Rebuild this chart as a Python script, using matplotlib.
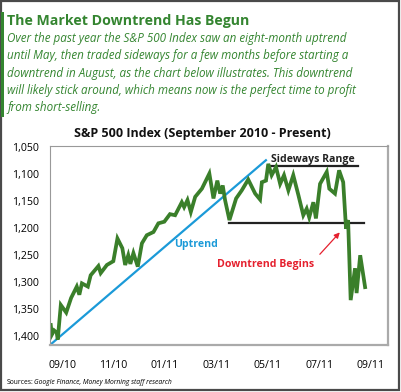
import matplotlib
matplotlib.use("Agg")
import matplotlib.pyplot as plt
from matplotlib.patches import Rectangle

plt.rcParams["font.family"] = ["Open Sans", "DejaVu Sans"]

# ---------- Data (months since Sep 2010, index level as labelled on the chart) ----------
months = [-0.44, -0.40, -0.31, -0.21, -0.17, -0.05, 0.16, 0.35, 0.57, 0.67,
          0.77, 1.00, 1.11, 1.41, 1.50, 1.74, 1.99, 2.15, 2.34, 2.45,
          2.57, 2.65, 2.77, 2.94, 3.10, 3.29, 3.55, 3.74, 3.97, 4.19,
          4.39, 4.65, 4.74, 4.87, 5.00, 5.17, 5.43, 5.72, 5.88, 6.03,
          6.14, 6.24, 6.33, 6.50, 6.76, 6.98, 7.23, 7.50, 7.69, 7.76,
          7.92, 8.01, 8.14, 8.31, 8.47, 8.62, 8.79, 8.98, 9.18, 9.37,
          9.50, 9.60, 9.76, 9.86, 10.02, 10.28, 10.38, 10.60, 10.76, 10.92,
          11.03, 11.11, 11.21, 11.38, 11.44, 11.58, 11.77]
index_level = [1380, 1398, 1390, 1394, 1407, 1343, 1357, 1330, 1309, 1324,
               1303, 1309, 1288, 1271, 1284, 1269, 1262, 1220, 1238, 1269,
               1251, 1267, 1247, 1272, 1229, 1214, 1208, 1192, 1189, 1175,
               1177, 1153, 1162, 1149, 1171, 1143, 1128, 1100, 1146, 1113,
               1137, 1122, 1149, 1186, 1146, 1131, 1111, 1137, 1148, 1116,
               1113, 1082, 1103, 1088, 1119, 1103, 1131, 1103, 1140, 1177,
               1165, 1181, 1153, 1183, 1119, 1097, 1128, 1137, 1094, 1116,
               1202, 1186, 1334, 1275, 1321, 1251, 1310]

uptrend_x = [-0.47, 7.95]
uptrend_y = [1417, 1074]
range_top_x = [8.0, 11.5]
range_top_y = [1086, 1086]
range_bot_x = [6.5, 11.72]
range_bot_y = [1191, 1191]

xtick_pos = [0, 2, 4, 6, 8, 10, 12]
xtick_labels = ["09/10", "11/10", "01/11", "03/11", "05/11", "07/11", "09/11"]
ytick_pos = [1050, 1100, 1150, 1200, 1250, 1300, 1350, 1400]
ytick_labels = ["1,050", "1,100", "1,150", "1,200", "1,250", "1,300", "1,350", "1,400"]

GREEN = "#3a7f2a"
HEAD_GREEN = "#348530"
BLUE = "#1b9ad8"
RED = "#e5202e"

fig = plt.figure(figsize=(4.01, 3.92), dpi=100)

# outer frame and green side bar
fig.patches.append(Rectangle((0.002, 0.004), 0.994, 0.993, transform=fig.transFigure,
                             fill=False, ec="#4a4a4a", lw=1.6))
fig.patches.append(Rectangle((0.003, 1 - 116.5 / 392), 0.008, 104 / 392, transform=fig.transFigure,
                             fc=HEAD_GREEN, ec="none"))

fig.text(7 / 401, 1 - 21 / 392, "The Market Downtrend Has Begun", color=HEAD_GREEN,
         fontsize=10.2, fontweight="bold", va="center", ha="left")
body = ("Over the past year the S&P 500 Index saw an eight-month uptrend\n"
        "until May, then traded sideways for a few months before starting a\n"
        "downtrend in August, as the chart below illustrates. This downtrend\n"
        "will likely stick around, which means now is the perfect time to profit\n"
        "from short-selling.")
fig.text(7 / 401, 1 - 32 / 392, body, color=HEAD_GREEN, fontsize=8.4, style="italic",
         va="top", ha="left", linespacing=1.43)

fig.text(0.505, 1 - 133 / 392, "S&P 500 Index (September 2010 - Present)", fontsize=9,
         fontweight="bold", ha="center", va="center", color="#111111")

src = fig.text(7 / 401, 1 - 383 / 392, "Sources:", fontsize=4.9, ha="left", va="center")
fig.add_artist(plt.Annotation("Google Finance, Money Morning staff research", xy=(1, 0.5),
                              xycoords=src, xytext=(0.5, 0), textcoords="offset points",
                              fontsize=4.9, style="italic", ha="left", va="center"))

ax = fig.add_axes([50 / 401, 1 - 345 / 392, 338 / 401, 199 / 392])
ax.plot(uptrend_x, uptrend_y, color=BLUE, lw=1.6, solid_capstyle="butt")
ax.plot(range_top_x, range_top_y, color="#222222", lw=1.6)
ax.plot(range_bot_x, range_bot_y, color="#222222", lw=1.6)
ax.plot(months, index_level, color=GREEN, lw=2.7, solid_joinstyle="miter")

ax.set_xlim(-0.47, 12.66)
ax.set_ylim(1417, 1049)
ax.set_xticks(xtick_pos)
ax.set_xticklabels(xtick_labels, fontsize=7.6)
ax.set_yticks(ytick_pos)
ax.set_yticklabels(ytick_labels, fontsize=7.6)
ax.tick_params(length=0, pad=8)
ax.tick_params(axis="x", pad=11)
for side in ["left", "top"]:
    ax.spines[side].set_color("#999999")
    ax.spines[side].set_linewidth(0.8)
for side in ["right", "bottom"]:
    ax.spines[side].set_color("#aaaaaa")
    ax.spines[side].set_linewidth(1.6)

ax.text(9.75, 1074, "Sideways Range", fontsize=7.6, fontweight="bold", ha="center",
        va="center", color="#222222")
ax.text(5.2, 1231, "Uptrend", fontsize=7.6, fontweight="bold", ha="center", va="center", color=BLUE)
ax.text(7.9, 1268, "Downtrend Begins", fontsize=7.6, fontweight="bold", ha="center",
        va="center", color=RED)
ax.annotate("", xy=(10.86, 1205), xytext=(9.94, 1253),
            arrowprops=dict(arrowstyle="-|>", color=RED, lw=0.9, mutation_scale=8))

fig.savefig("out.png", dpi=100)
